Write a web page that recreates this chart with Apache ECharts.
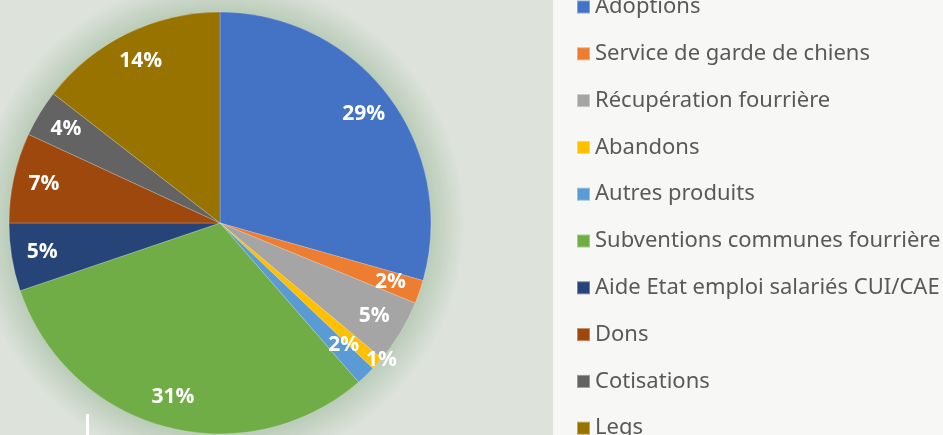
<!DOCTYPE html>
<html><head><meta charset="utf-8">
<script src="https://cdn.jsdelivr.net/npm/echarts@6/dist/echarts.min.js"></script>
<style>html,body{margin:0;padding:0;background:#dde3db}#c{width:943px;height:435px}</style>
</head><body><div id="c"></div>
<script>
const categories = ["Adoptions","Service de garde de chiens","Récupération fourrière","Abandons","Autres produits","Subventions communes fourrière","Aide Etat emploi salariés CUI/CAE","Dons","Cotisations","Legs"];
const values = [29.4, 1.8, 4.9, 1.0, 1.5, 31.2, 5.2, 6.9, 3.6, 14.5];
const colors = ["#4472c4","#ed7d31","#a5a5a5","#ffc000","#5b9bd5","#70ad47","#264478","#9e480e","#636363","#997300"];

const chart = echarts.init(document.getElementById('c'), null, {renderer:'canvas'});
const total = values.reduce((a,b)=>a+b,0);
const center = [220, 223];
const R = 211;

const halo = [];
for (let s = 3; s <= 33; s += 3) {
  halo.push({type:'circle', silent:true, z:-20,
    shape:{cx:center[0], cy:center[1], r:R + s},
    style:{fill:'rgba(40,50,40,0.013)'}});
}

chart.setOption({
  backgroundColor: '#dde3db',
  color: colors,
  animation: false,
  graphic: [
    ...halo,
    {type:'rect', left:553, top:0, shape:{width:390, height:435}, style:{fill:'#f7f7f5'}, z:-10},
    {type:'rect', left:86, top:414, shape:{width:3, height:21}, style:{fill:'#ffffff'}, z:10}
  ],
  legend: {
    orient:'vertical', left:571, top:-9, height:600,
    itemWidth:13, itemHeight:13, itemGap:24.8,
    icon:'rect',
    textStyle:{fontFamily:'Noto Sans', fontSize:22, color:'#595959', lineHeight:22, padding:[0,0,0,0]},
    data: categories
  },
  series: [
    {
      type:'pie', center:center, radius:R, startAngle:90, clockwise:true, z:2,
      data: categories.map((n,i)=>({name:n, value:values[i]})),
      itemStyle:{borderWidth:0.6, borderColor:'rgba(255,255,255,0.35)'},
      label:{show:false}, labelLine:{show:false}
    },
    {
      type:'pie', center:center, radius:[R*0.68, R], startAngle:90, clockwise:true, silent:true, z:3,
      data: categories.map((n,i)=>({name:n, value:values[i],
        label: i===3 ? {offset:[27,17]} : (i===4 ? {offset:[-1,-8]} : undefined)})),
      itemStyle:{color:'rgba(0,0,0,0)'},
      label:{show:true, position:'inside', formatter:p=>Math.round(p.value/total*100)+'%',
        color:'#ffffff', fontFamily:'Open Sans', fontWeight:'bold', fontSize:21},
      labelLine:{show:false}
    }
  ]
});
</script></body></html>
